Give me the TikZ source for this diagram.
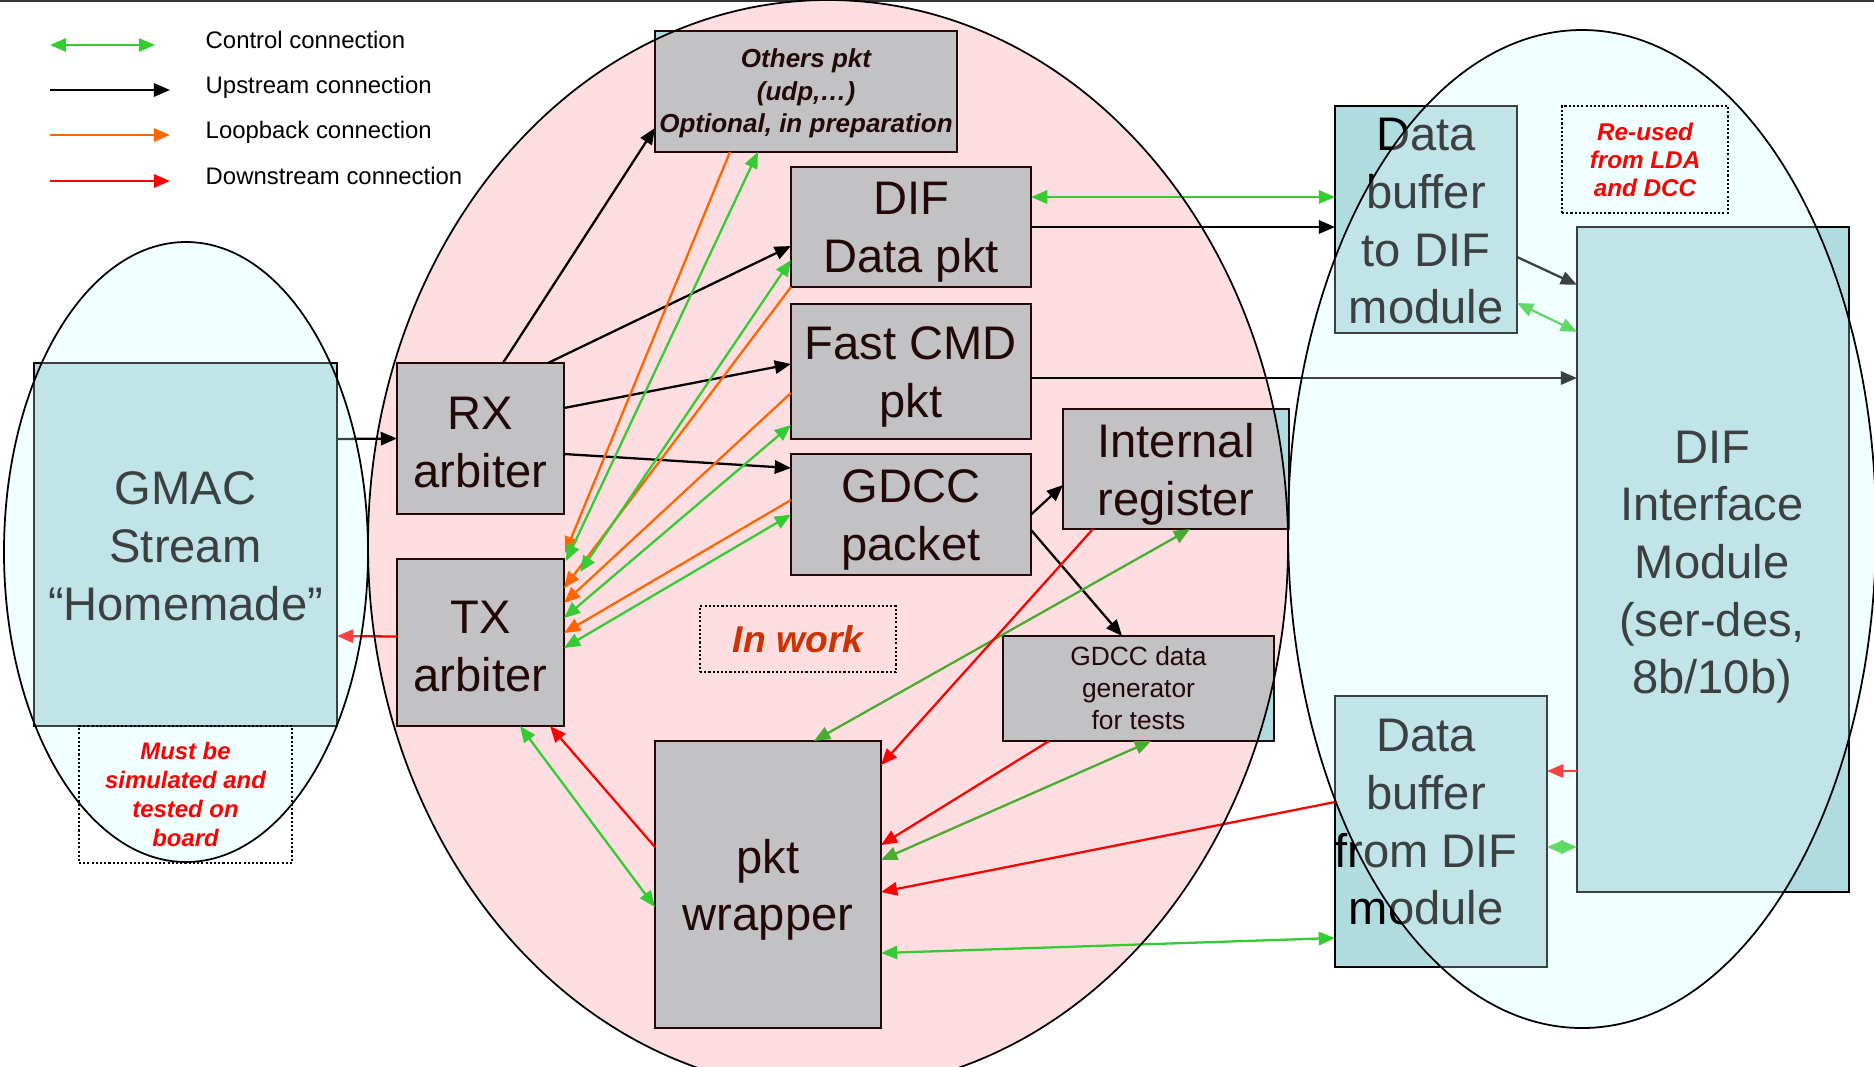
\documentclass[tikz,border=0pt]{standalone}
\usepackage{fontspec}
\setmainfont{Liberation Sans}
\usetikzlibrary{arrows.meta,calc}
\definecolor{pinkfill}{RGB}{255,222,225}
\definecolor{azurefill}{RGB}{240,255,255}
\definecolor{tealbox}{RGB}{176,220,223}
\definecolor{graybox}{RGB}{194,194,196}
\definecolor{darkbrown}{RGB}{35,8,8}
\definecolor{ctrlgreen}{RGB}{51,204,51}
\definecolor{ctrlgreendk}{RGB}{72,172,48}
\definecolor{loopor}{RGB}{255,102,0}
\definecolor{downred}{RGB}{255,0,0}
\definecolor{workred}{RGB}{204,51,0}

\tikzset{
  >={Triangle[length=4.6pt,width=3.8pt]},
  conn/.style={line width=0.65pt},
  upconn/.style={conn,->,black},
  downconn/.style={conn,->,downred},
  loopconn/.style={conn,->,loopor},
  ctrlconn/.style={conn,<->,ctrlgreen},
  pinkbox/.style={draw=darkbrown,line width=0.6pt,fill=tealbox,inner sep=0pt,outer sep=0pt},
  tealrect/.style={draw=black,line width=0.6pt,fill=tealbox,inner sep=0pt,outer sep=0pt},
  notebox/.style={draw=black,line width=0.5pt,dash pattern=on 0.6pt off 0.6pt,inner sep=0pt,outer sep=0pt,
    align=center,font=\fontsize{6.8}{8.2}\selectfont\bfseries\itshape,text=downred},
  bigtext/.style={align=center,yshift=-1.5pt,font=\fontsize{13.4}{16.4}\selectfont},
  pinktext/.style={bigtext,text=darkbrown},
  legtext/.style={anchor=base west,inner sep=0pt,font=\fontsize{6.8}{8}\selectfont}
}

\begin{document}
\begin{tikzpicture}[x=0.01cm,y=-0.01cm]
\useasboundingbox (0,0) rectangle (1874,1066);

\draw[line width=0.6pt,black!80] (0,1) -- (1874,1);

% zones
\fill[azurefill] (186,552) ellipse (182 and 310);
\fill[pinkfill] (828,545) ellipse (460 and 545);
\fill[azurefill] (1582,529) ellipse (294 and 499);

% blocks of the pink zone
\node[pinkbox,minimum width=3.02cm,minimum height=1.21cm] (oth) at (806,91.5) {};
\node[pinkbox,minimum width=2.40cm,minimum height=1.20cm] (dif) at (911,227) {};
\node[pinkbox,minimum width=2.40cm,minimum height=1.35cm] (fcmd) at (911,371.5) {};
\node[pinkbox,minimum width=2.40cm,minimum height=1.21cm] (gdcc) at (911,514.5) {};
\node[pinkbox,minimum width=2.26cm,minimum height=1.20cm] (ireg) at (1176,469) {};
\node[pinkbox,minimum width=2.71cm,minimum height=1.05cm] (ggen) at (1138.5,688.5) {};
\node[pinkbox,minimum width=1.67cm,minimum height=1.51cm] (rx) at (480.5,438.5) {};
\node[pinkbox,minimum width=1.67cm,minimum height=1.67cm] (tx) at (480.5,642.5) {};
\node[pinkbox,minimum width=2.26cm,minimum height=2.87cm] (pktw) at (768,884.5) {};
\begin{scope}
  \clip (828,545) ellipse (460 and 545);
  \foreach \blk in {oth,dif,fcmd,gdcc,ireg,ggen,rx,tx,pktw}
    \fill[graybox] (\blk.south west) rectangle (\blk.north east);
\end{scope}
\foreach \blk in {oth,dif,fcmd,gdcc,ireg,ggen,rx,tx,pktw}
  \draw[darkbrown,line width=0.6pt] (\blk.south west) rectangle (\blk.north east);

\node[align=center,yshift=-0.6pt,text=darkbrown,font=\fontsize{7.4}{9.2}\selectfont\bfseries\itshape] (othlbl) at (oth) {Others pkt\\(udp,…)\\Optional, in preparation};
\node[pinktext] (diflbl) at (dif) {DIF\\Data pkt};
\node[pinktext] (fcmdlbl) at (fcmd) {Fast CMD\\pkt};
\node[pinktext] (gdcclbl) at (gdcc) {GDCC\\packet};
\node[pinktext] (ireglbl) at (ireg) {Internal\\register};
\node[align=center,text=darkbrown,font=\fontsize{7.5}{9.1}\selectfont] (ggenlbl) at (ggen) {GDCC data\\generator\\for tests};
\node[pinktext] (rxlbl) at (480.5,437) {RX\\arbiter};
\node[pinktext] (txlbl) at (480.5,641) {TX\\arbiter};
\node[pinktext] (pktwlbl) at (pktw) {pkt\\wrapper};

% blocks outside
\node[tealrect,minimum width=3.03cm,minimum height=3.63cm] (gmac) at (185.5,544.5) {};
\node[tealrect,minimum width=1.82cm,minimum height=2.27cm] (dbto) at (1426,219.5) {};
\node[tealrect,minimum width=2.12cm,minimum height=2.71cm] (dbfrom) at (1441,831.5) {};
\node[tealrect,minimum width=2.72cm,minimum height=6.65cm] (difif) at (1713,559.5) {};
\node[bigtext] (gmaclbl) at (185.5,541) {GMAC\\Stream\\“Homemade”};
\node[bigtext] (dbtolbl) at (1426,216) {Data\\buffer\\to DIF\\module};
\node[bigtext] (dbfromlbl) at (1426,817) {Data\\buffer\\from DIF\\module};
\node[bigtext] (dififlbl) at (1712,562) {DIF\\Interface\\Module\\(ser-des,\\8b/10b)};

% upstream
\draw[upconn] ($(gmac.east)+(0,-105.5)$) -- (rx.west);
\draw[upconn] ($(rx.north)+(22.5,0)$) -- ($(oth.south west)+(0,-24)$);
\draw[upconn] ($(rx.north east)+(-16,0)$) -- ($(dif.west)+(0,19)$);
\draw[upconn] ($(rx.east)+(0,-30.5)$) -- ($(fcmd.west)+(0,-7.5)$);
\draw[upconn] ($(rx.east)+(0,15.5)$) -- ($(gdcc.west)+(0,-46.5)$);
\draw[upconn] (dif.east) -- ($(dbto.west)+(0,7.5)$);
\draw[upconn] ($(fcmd.east)+(0,6.5)$) -- ($(difif.west)+(0,-181.5)$);
\draw[upconn] (gdcc.east) -- ($(ireg.west)+(0,16)$);
\draw[upconn] ($(gdcc.east)+(0,15.5)$) -- ($(ggen.north)+(-16.5,0)$);
\draw[upconn] ($(dbto.east)+(0,37.5)$) -- ($(difif.north west)+(0,58)$);

% loopback
\draw[loopconn] ($(oth.south west)+(75,0)$) -- ($(tx.north east)+(1,-6)$);
\draw[loopconn] (dif.south west) -- ($(tx.east)+(0,-54.5)$);
\draw[loopconn] ($(fcmd.west)+(0,21.5)$) -- ($(tx.east)+(0,-39.5)$);
\draw[loopconn] ($(gdcc.west)+(0,-14.5)$) -- ($(tx.east)+(0,-9.5)$);

% control
\draw[ctrlconn] ($(oth.south west)+(103,0)$) -- ($(tx.north east)+(2,2)$);
\draw[ctrlconn] ($(dif.west)+(0,33)$) -- ($(tx.north east)+(16,13)$);
\draw[ctrlconn] ($(fcmd.west)+(0,53.5)$) -- ($(tx.east)+(0,-24.5)$);
\draw[ctrlconn] (gdcc.west) -- ($(tx.east)+(0,5.5)$);
\draw[ctrlconn] ($(dif.east)+(0,-30)$) -- ($(dbto.west)+(0,-22.5)$);
\draw[ctrlconn] ($(dbto.east)+(0,83.5)$) -- ($(difif.north west)+(0,105)$);
\draw[ctrlconn] ($(dbfrom.east)+(0,15.5)$) -- ($(difif.west)+(0,287.5)$);
\draw[ctrlconn] ($(pktw.east)+(0,68.5)$) -- ($(dbfrom.west)+(0,106.5)$);
\draw[ctrlconn] ($(pktw.west)+(0,22.5)$) -- ($(tx.south)+(39.5,0)$);
\draw[ctrlconn,ctrlgreendk] ($(ireg.south)+(14,0)$) -- ($(pktw.north)+(46,0)$);
\draw[ctrlconn,ctrlgreendk] ($(ggen.south)+(12.5,0)$) -- ($(pktw.east)+(0,-24.5)$);

% downstream
\draw[downconn] ($(tx.west)+(0,-6)$) -- ($(gmac.east)+(0,91.5)$);
\draw[downconn] ($(pktw.west)+(0,-37.5)$) -- ($(tx.south)+(69.5,0)$);
\draw[downconn] ($(ireg.south west)+(30,0)$) -- ($(pktw.north east)+(0,24)$);
\draw[downconn] ($(ggen.south west)+(46,0)$) -- ($(pktw.east)+(0,-39.5)$);
\draw[downconn] ($(dbfrom.west)+(0,-29.5)$) -- ($(pktw.east)+(0,7.5)$);
\draw[downconn] ($(difif.west)+(0,211.5)$) -- ($(dbfrom.east)+(0,-60.5)$);

% veil and outlines of the zones
\fill[azurefill,fill opacity=0.25] (186,552) ellipse (182 and 310);
\fill[azurefill,fill opacity=0.25] (1582,529) ellipse (294 and 499);
\draw[line width=0.5pt] (186,552) ellipse (182 and 310);
\draw[line width=0.5pt] (828,545) ellipse (460 and 545);
\draw[line width=0.5pt] (1582,529) ellipse (294 and 499);

% notes
\node[notebox,minimum width=2.13cm,minimum height=1.37cm] (must) at (185.5,794.5) {Must be\\simulated and\\tested on\\board};
\node[notebox,minimum width=1.66cm,minimum height=1.07cm,font=\fontsize{6.9}{8}\selectfont\bfseries\itshape] (reused) at (1645,159.5) {Re-used\\from LDA\\and DCC};
\node[notebox,minimum width=1.96cm,minimum height=0.66cm,font=\fontsize{10.6}{12}\selectfont\bfseries\itshape,text=workred] (inwork) at (798,639) {In work};

% legend
\node[legtext] (lgctrl) at (205,48) {Control connection};
\node[legtext] (lgup) at (205,93) {Upstream connection};
\node[legtext] (lgloop) at (205,138) {Loopback connection};
\node[legtext] (lgdown) at (205,184) {Downstream connection};
\draw[ctrlconn] ($(lgctrl.base west)+(-155,-3)$) -- ($(lgctrl.base west)+(-50,-3)$);
\draw[upconn] ($(lgup.base west)+(-155,-3)$) -- ($(lgup.base west)+(-35,-3)$);
\draw[loopconn] ($(lgloop.base west)+(-155,-3)$) -- ($(lgloop.base west)+(-35,-3)$);
\draw[downconn] ($(lgdown.base west)+(-155,-3)$) -- ($(lgdown.base west)+(-35,-3)$);
\end{tikzpicture}
\end{document}
